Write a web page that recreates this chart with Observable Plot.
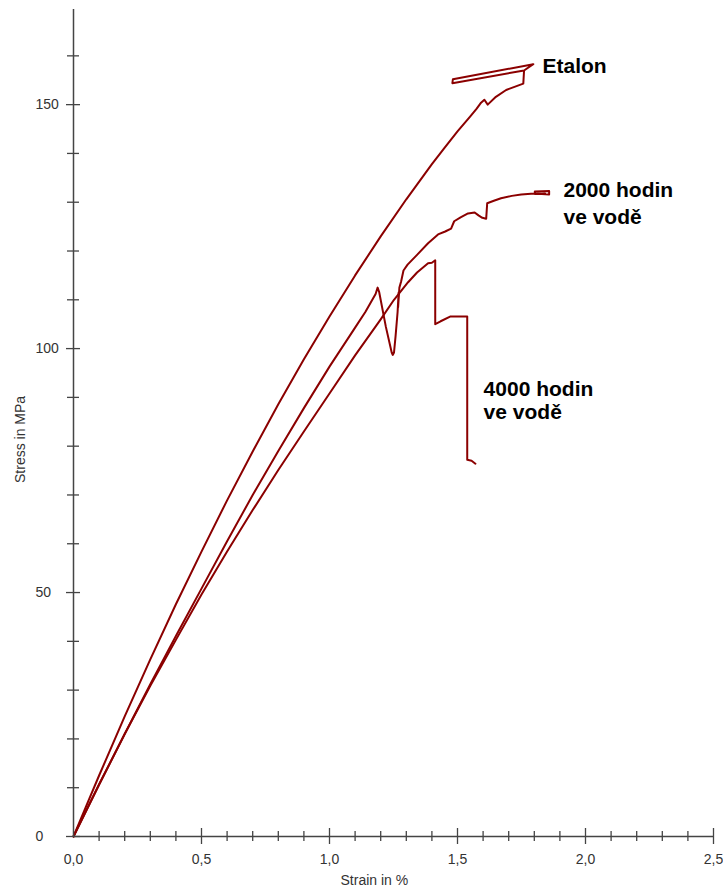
<!DOCTYPE html>
<html>
<head>
<meta charset="utf-8">
<script src="https://cdn.jsdelivr.net/npm/d3@7"></script>
<script src="https://cdn.jsdelivr.net/npm/@observablehq/plot@0.6"></script>
<style>
  html, body { margin: 0; padding: 0; background: #ffffff; }
  #chart svg { display: block; }
</style>
</head>
<body>
<div id="chart"></div>
<script>
// ---- Data ----
const seriesNames = ["Etalon", "2000 hodin ve vodě", "4000 hodin ve vodě"];

const etalonStrain = [0, 0.05, 0.1, 0.2, 0.3, 0.4, 0.5, 0.6, 0.7, 0.8, 0.9, 1.0, 1.1, 1.2, 1.3, 1.4, 1.45, 1.5, 1.55, 1.575, 1.592, 1.605, 1.618, 1.65, 1.69, 1.72, 1.757, 1.760, 1.796, 1.482, 1.480, 1.760];
const etalonStress = [0, 6.3, 12.5, 24.6, 36.3, 47.6, 58.4, 68.9, 78.9, 88.6, 97.8, 106.6, 115.0, 123.0, 130.6, 137.8, 141.2, 144.5, 147.6, 149.2, 150.4, 151.0, 150.0, 151.6, 153.0, 153.6, 154.3, 157.0, 158.3, 155.2, 154.4, 157.0];

const h2000Strain = [0, 0.1, 0.2, 0.3, 0.4, 0.5, 0.6, 0.7, 0.8, 0.9, 1.0, 1.1, 1.14, 1.18, 1.188, 1.194, 1.22, 1.243, 1.247, 1.252, 1.258, 1.266, 1.270, 1.268, 1.273, 1.280, 1.289, 1.305, 1.342, 1.385, 1.424, 1.452, 1.475, 1.487, 1.512, 1.541, 1.567, 1.582, 1.597, 1.612, 1.616, 1.642, 1.670, 1.712, 1.749, 1.800, 1.858, 1.858, 1.802, 1.802, 1.842];
const h2000Stress = [0, 10.6, 21.0, 31.2, 41.1, 50.8, 60.5, 70.0, 79.0, 87.8, 96.3, 104.3, 107.5, 111.2, 112.5, 111.6, 104.5, 99.2, 98.7, 99.2, 102.5, 107.5, 111.5, 108.5, 112.5, 113.8, 116.0, 117.2, 119.2, 121.6, 123.4, 124.0, 124.6, 126.1, 126.9, 127.7, 127.9, 127.3, 126.8, 126.6, 129.8, 130.3, 130.8, 131.3, 131.6, 131.8, 131.6, 132.3, 132.2, 131.7, 131.8];

const h4000Strain = [0, 0.1, 0.2, 0.3, 0.4, 0.5, 0.6, 0.7, 0.8, 0.9, 1.0, 1.1, 1.2, 1.252, 1.307, 1.342, 1.385, 1.400, 1.413, 1.413, 1.434, 1.473, 1.50, 1.538, 1.538, 1.555, 1.570];
const h4000Stress = [0, 10.7, 21.0, 30.9, 40.3, 49.6, 58.4, 66.9, 75.1, 83.0, 90.8, 98.6, 106.0, 110.0, 113.6, 115.6, 117.5, 117.6, 118.1, 105.0, 105.6, 106.6, 106.6, 106.6, 77.2, 77.0, 76.4];

const labelLines  = ["Etalon", "2000 hodin", "ve vodě", "4000 hodin", "ve vodě"];
const labelStrain = [1.832, 1.914, 1.914, 1.602, 1.602];
const labelStress = [156.4, 131.0, 125.6, 90.3, 85.6];

const xTickLabels = [0, 0.5, 1.0, 1.5, 2.0, 2.5];
const xMajorTicks = [0.5, 1.0, 1.5, 2.0, 2.5];
const xMinorTicks = [0.1, 0.2, 0.3, 0.4, 0.6, 0.7, 0.8, 0.9, 1.1, 1.2, 1.3, 1.4, 1.6, 1.7, 1.8, 1.9, 2.1, 2.2, 2.3, 2.4];
const yTickLabels = [0, 50, 100, 150];
const yMajorTicks = [0, 50, 100, 150];
const yMinorTicks = [10, 20, 30, 40, 60, 70, 80, 90, 110, 120, 130, 140, 160];

const xTitle = "Strain in %";
const yTitle = "Stress in MPa";

// ---- Build table ----
const rows = [];
function addSeries(name, xs, ys) {
  xs.forEach((x, i) => rows.push({series: name, strain: x, stress: ys[i]}));
}
addSeries(seriesNames[0], etalonStrain, etalonStress);
addSeries(seriesNames[1], h2000Strain, h2000Stress);
addSeries(seriesNames[2], h4000Strain, h4000Stress);

const labels = labelLines.map((t, i) => ({text: t, strain: labelStrain[i], stress: labelStress[i]}));

// ---- Layout ----
const W = 723, H = 888;
const mL = 73, mR = 10, mT = 9, mB = 52;
const frameW = W - mL - mR, frameH = H - mT - mB;
const axisColor = "#444";
const lineColor = "#8b0000";
const fmt = d => d.toFixed(1).replace(".", ",");

const chart = Plot.plot({
  width: W,
  height: H,
  marginLeft: mL,
  marginRight: mR,
  marginTop: mT,
  marginBottom: mB,
  x: {domain: [0, 2.5]},
  y: {domain: [0, 169.5]},
  style: {fontFamily: "'Liberation Sans', Arial, sans-serif", background: "#ffffff", overflow: "visible"},
  marks: [
    Plot.line(rows, {x: "strain", y: "stress", z: "series", stroke: lineColor, strokeWidth: 2, strokeLinejoin: "round", strokeLinecap: "round"}),
    Plot.ruleX([0], {stroke: axisColor, strokeWidth: 1.5}),
    Plot.ruleY([0], {stroke: axisColor, strokeWidth: 1.5}),
    Plot.tickX(xMinorTicks, {x: d => d, insetTop: frameH - 5, insetBottom: -5, stroke: axisColor, strokeWidth: 1.3}),
    Plot.tickX(xMajorTicks, {x: d => d, insetTop: frameH - 8, insetBottom: -8, stroke: axisColor, strokeWidth: 1.3}),
    Plot.tickY(yMinorTicks, {y: d => d, insetLeft: -6, insetRight: frameW - 6, stroke: axisColor, strokeWidth: 1.3}),
    Plot.tickY(yMajorTicks, {y: d => d, insetLeft: -7, insetRight: frameW - 7, stroke: axisColor, strokeWidth: 1.3}),
    Plot.axisX(xTickLabels, {tickSize: 0, tickPadding: 18, tickFormat: fmt, fontSize: 14, fill: "#333", label: null}),
    Plot.axisY(yTickLabels, {tickSize: 0, tickPadding: 38, textAnchor: "start", fontSize: 14, fill: "#333", label: null}),
    Plot.text([xTitle], {frameAnchor: "bottom-left", dx: 267, dy: 48, textAnchor: "start", lineAnchor: "bottom", fontSize: 14, fill: "#333"}),
    Plot.text([yTitle], {frameAnchor: "left", dx: -49, dy: 60, rotate: -90, lineAnchor: "bottom", fontSize: 14, fill: "#333"}),
    Plot.text(labels, {x: "strain", y: "stress", text: "text", textAnchor: "start", lineAnchor: "bottom", fontSize: 21, fontWeight: "bold", fill: "#000"})
  ]
});
document.getElementById("chart").appendChild(chart);
</script>
</body>
</html>
